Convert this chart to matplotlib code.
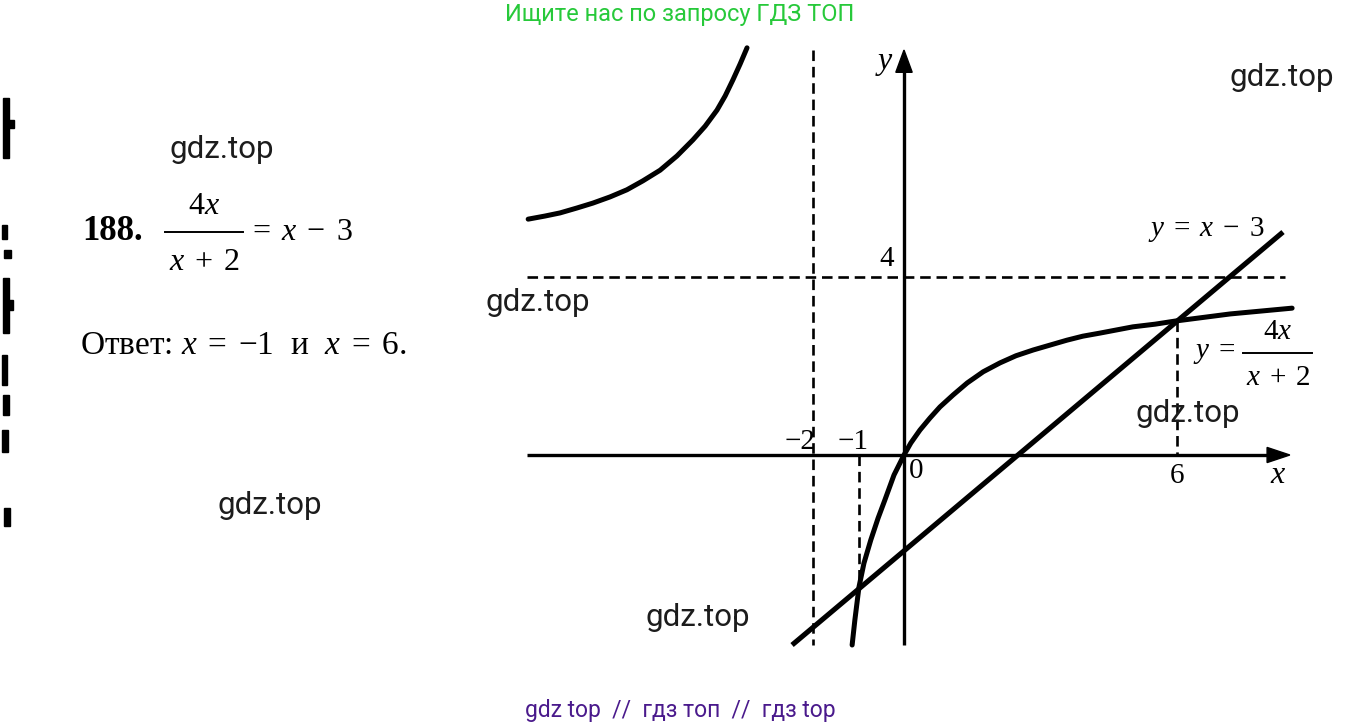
import matplotlib
matplotlib.use('Agg')
import matplotlib.pyplot as plt
from matplotlib.patches import Polygon, Rectangle
from matplotlib.lines import Line2D

plt.rcParams['mathtext.fontset'] = 'custom'
plt.rcParams['mathtext.rm'] = 'Liberation Serif'
plt.rcParams['mathtext.it'] = 'Liberation Serif:italic'
plt.rcParams['mathtext.bf'] = 'Liberation Serif:bold'

# ---- data (graph units) ----
hyp_left_x = [-8.26, -7.89, -7.56, -7.19, -6.84, -6.46, -6.09, -5.74, -5.36, -4.99,
              -4.64, -4.37, -4.11, -3.93, -3.76, -3.60, -3.45]
hyp_left_y = [5.30, 5.37, 5.44, 5.55, 5.66, 5.80, 5.96, 6.16, 6.40, 6.72,
              7.08, 7.39, 7.75, 8.07, 8.43, 8.79, 9.15]
hyp_right_x = [-1.14, -1.08, -0.99, -0.88, -0.73, -0.57, -0.42, -0.22, 0.0, 0.15, 0.35,
               0.57, 0.79, 1.08, 1.39, 1.74, 2.11, 2.46, 2.84, 3.21, 3.58, 3.93,
               4.31, 5.03, 5.52, 5.96, 7.17, 8.53]
hyp_right_y = [-4.27, -3.71, -2.97, -2.43, -1.91, -1.42, -1.01, -0.45, 0.0, 0.27, 0.56,
               0.83, 1.08, 1.35, 1.62, 1.87, 2.07, 2.23, 2.36, 2.47, 2.58, 2.67,
               2.74, 2.88, 2.94, 3.01, 3.17, 3.30]
line_x = [-2.46, 8.33]
line_y = [-4.27, 5.01]
asym_x = -2.0
asym_y = 4.0
root1 = (-0.99, -2.97)
root2 = (6.0, 3.01)
xaxis_range = [-8.29, 8.48]
yaxis_range = [-4.27, 9.10]
tick_labels = ['\u22122', '\u22121', '0', '6', '4']
tick_pos = [(-2.28, 0.30), (-1.12, 0.30), (0.27, -0.35), (6.0, -0.47), (-0.38, 4.40)]

W, H = 1362, 728
fig = plt.figure(figsize=(W / 100, H / 100), dpi=100)
ax = fig.add_axes([0, 0, 1, 1])
ax.set_xlim(-904 / 45.5, (W - 904) / 45.5)
ax.set_ylim((455 - H) / 44.5, 455 / 44.5)
ax.axis('off')

def ftext(px, py, s, **kw):
    fig.text(px / W, 1 - py / H, s, **kw)

k = 'black'
# axes
ax.plot([xaxis_range[0], xaxis_range[1] - 0.3], [0, 0], color=k, lw=2.4, solid_capstyle='butt')
ax.plot([0, 0], [yaxis_range[0], yaxis_range[1] - 0.3], color=k, lw=2.4, solid_capstyle='butt')
ax.add_patch(Polygon([[xaxis_range[1], 0], [xaxis_range[1] - 0.5, 0.17], [xaxis_range[1] - 0.5, -0.17]], closed=True, color=k))
ax.add_patch(Polygon([[0, yaxis_range[1]], [-0.18, yaxis_range[1] - 0.5], [0.18, yaxis_range[1] - 0.5]], closed=True, color=k))

# dashed guides
dash = dict(color=k, lw=1.9, ls=(0, (4, 2.2)))
ax.plot([asym_x, asym_x], [yaxis_range[1], yaxis_range[0]], **dash)
ax.plot([xaxis_range[0], 8.37], [asym_y, asym_y], **dash)
ax.plot([root1[0], root1[0]], [0, root1[1]], **dash)
ax.plot([root2[0], root2[0]], [root2[1], 0], **dash)

# curves
cur = dict(color=k, lw=3.6, solid_capstyle='round', solid_joinstyle='round')
ax.plot(hyp_left_x, hyp_left_y, **cur)
ax.plot(hyp_right_x, hyp_right_y, **cur)
ax.plot(line_x, line_y, color=k, lw=3.7, solid_capstyle='butt')

serif = 'Liberation Serif'
for lab, (tx, ty) in zip(tick_labels, tick_pos):
    ax.text(tx, ty, lab, fontsize=21, family=serif, ha='center', va='center')
ax.text(8.22, -0.45, 'x', fontsize=23, family=serif, style='italic', ha='center', va='center')
ax.text(-0.42, 8.85, 'y', fontsize=23, family=serif, style='italic', ha='center', va='center')

# graph labels
ftext(1206, 230, r'$y\;=\;x\;-\;3$', fontsize=21, ha='center', va='center')
ftext(1214, 352, r'$y\;=$', fontsize=21, ha='center', va='center')
ftext(1278, 331, r'$4x$', fontsize=21, ha='center', va='center')
fig.add_artist(Line2D([1243 / W, 1312 / W], [1 - 353 / H, 1 - 353 / H], color=k, lw=1.4))
ftext(1278, 377, r'$x\;+\;2$', fontsize=21, ha='center', va='center')

# left text
ftext(82, 232, '188.', fontsize=25, family=serif, weight='bold', ha='left', va='center')
ftext(204, 206, r'$4x$', fontsize=23, ha='center', va='center')
fig.add_artist(Line2D([165 / W, 243 / W], [1 - 232 / H, 1 - 232 / H], color=k, lw=1.4))
ftext(204, 261, r'$x\;+\;2$', fontsize=23, ha='center', va='center')
ftext(248, 232, r'$=\;x\;-\;3$', fontsize=23, ha='left', va='center')
ftext(80, 346, r'Ответ: $x\;=\;{-}1$  и  $x\;=\;6$.', fontsize=24, family=serif, ha='left', va='center')

# watermarks
wm = dict(fontsize=22.5, family='Roboto', color='#1c1c1c', ha='center', va='center')
for (px, py) in [(222, 150), (1282, 78), (538, 302), (1188, 413), (270, 506), (698, 618)]:
    ftext(px, py, 'gdz.top', **wm)

ftext(680, 15, 'Ищите нас по запросу ГДЗ ТОП', fontsize=17, family='Roboto', color='#27c93a', ha='center', va='center')
ftext(680, 711, 'gdz top  //  гдз топ  //  гдз top', fontsize=16.5, family='Roboto', color='#4a1a8c', ha='center', va='center')

# scan specks along the left edge
for (px, py, w, h) in [(3, 98, 6, 60), (6, 120, 8, 8), (2, 225, 5, 14), (4, 250, 7, 8),
                       (3, 278, 6, 55), (5, 300, 8, 10), (2, 355, 5, 30), (3, 395, 6, 20),
                       (2, 430, 6, 22), (4, 508, 6, 18)]:
    fig.add_artist(Rectangle((px / W, 1 - (py + h) / H), w / W, h / H, color=k))

fig.savefig('out.png', dpi=100, facecolor='white')
